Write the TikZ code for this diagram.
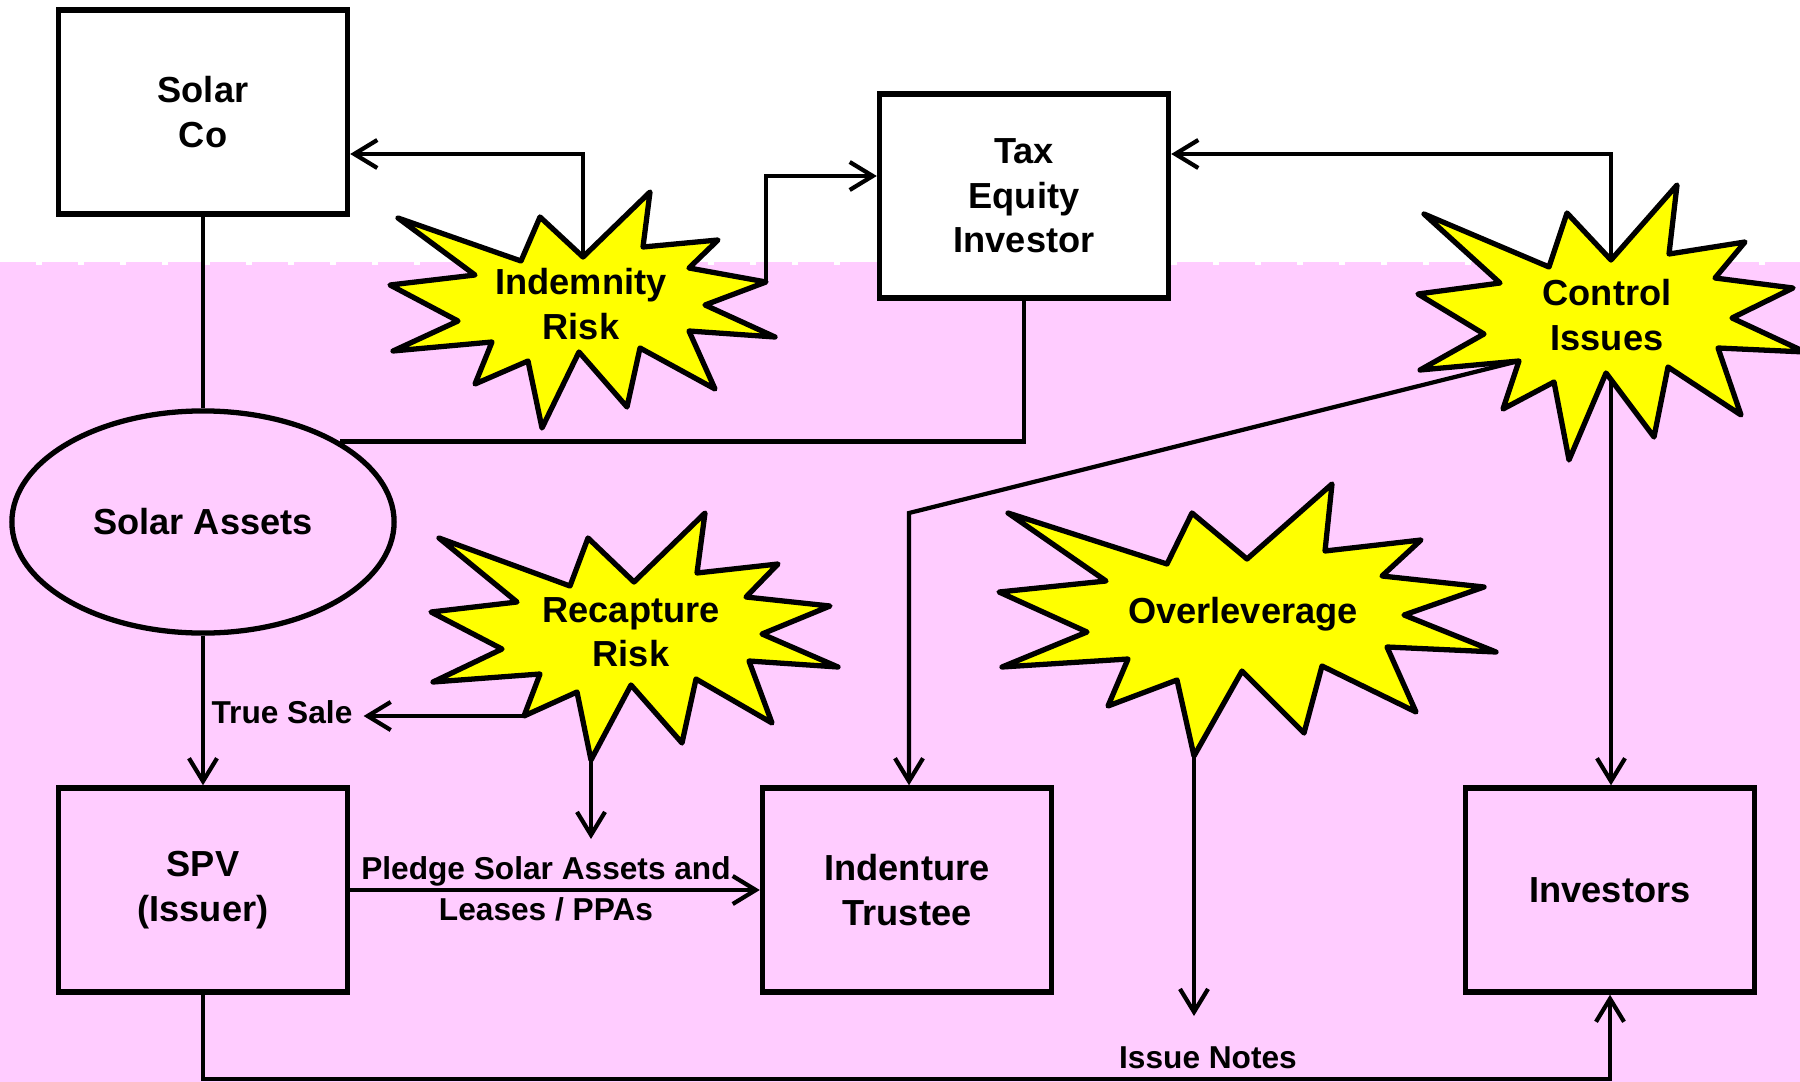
\documentclass[tikz,border=0pt]{standalone}
\usepackage{fontspec}
\setmainfont{Liberation Sans}
\usepackage{xcolor}
\usetikzlibrary{shapes.geometric, arrows.meta, positioning, calc}
\definecolor{bgpink}{RGB}{255,204,255}
\definecolor{burstyellow}{RGB}{255,255,0}

\begin{document}
\begin{tikzpicture}[x=0.01cm,y=-0.01cm]
\tikzset{
  bx/.style={rectangle,draw=black,line width=1.5pt,minimum width=2.89cm,minimum height=2.04cm,align=center,font=\bfseries\fontsize{10.3}{12.6}\selectfont},
  el/.style={ellipse,draw=black,line width=1.5pt,minimum width=3.82cm,minimum height=2.22cm,inner sep=0pt,font=\bfseries\fontsize{10.3}{12.6}\selectfont},
  burst/.style={draw=black,fill=burstyellow,line width=1.5pt,line join=round},
  bt/.style={align=center,font=\bfseries\fontsize{10.3}{12.6}\selectfont,inner sep=0pt},
  ar/.style={-{Straight Barb[length=2.3mm,width=2.8mm]},line width=1.2pt},
  ln/.style={line width=1.2pt},
  lb/.style={font=\bfseries\fontsize{9}{10.8}\selectfont,inner sep=3pt}
}
\useasboundingbox (0,0) rectangle (1800,1082);
\fill[bgpink] (0,265) rectangle (1800,1082);
\draw[bgpink,line width=0.9pt,dash pattern=on 0.36cm off 0.06cm] (0,263.5) -- (1800,263.5);

\node[bx,fill=white] (solarco) at (203,112) {Solar\\Co};
\node[bx,fill=white] (taxeq) at (1024,196) {Tax\\Equity\\Investor};
\node[el] (assets) at (203,522) {Solar Assets};
\node[bx] (spv) at (203,890) {SPV\\(Issuer)};
\node[bx] (trustee) at (907,890) {Indenture\\Trustee};
\node[bx] (investors) at (1610,890) {Investors};

\coordinate (indA) at (583,257);
\coordinate (indK) at (583,154);
\coordinate (indR) at (766,282);
\coordinate (indK2) at (766,176);
\coordinate (ctlT) at (1611,260);
\coordinate (ctlK) at (1611,154);
\coordinate (ctlB) at (1611,373);
\coordinate (ctlL) at (1519,361);
\coordinate (trK) at (909,513);
\coordinate (recL) at (524,716);
\coordinate (recB) at (591,760);
\coordinate (recE) at (591,839);
\coordinate (ovB) at (1194,756);
\coordinate (ovE) at (1194,1016);
\coordinate (bot) at (0,1079);

\node[lb] (truesale) at (282,712) {True Sale};
\node[lb] (pledge) at (546,871) {Pledge Solar Assets and};
\node[lb] (leases) at (546,909) {Leases / PPAs};
\node[lb] (issue) at (1208,1058) {Issue Notes};

\draw[ln] (solarco) -- (assets);
\draw[ar] (assets) -- (spv);
\draw[ln] (taxeq.south) |- (assets.north east);
\draw[ar] (indA) -- (indK) -- (indK -| solarco.east);
\draw[ar] (indR) -- (indK2) -- (indK2 -| taxeq.west);
\draw[ar] (ctlT) -- (ctlK) -- (ctlK -| taxeq.east);
\draw[ar] (ctlB) -- (ctlB |- investors.north);
\draw[ar] (ctlL) -- (trK) -- (trK |- trustee.north);
\draw[ar] (recL) -- (recL -| truesale.east);
\draw[ar] (recB) -- (recE);
\draw[ar] (spv) -- (trustee);
\draw[ar] (ovB) -- (ovE);
\draw[ar] (spv.south) -- (spv.south |- bot) -| (investors.south);

\draw[burst] (398,218) -- (521,261) -- (540,217) -- (583,257) -- (650,192) -- (643,247) -- (718,240) -- (689,268) -- (766,282) -- (705,305) -- (775,337) -- (689,331) -- (715,389) -- (640,348) -- (627,407) -- (579,352) -- (542,428) -- (528,361) -- (475,384) -- (492,342) -- (393,351) -- (458,321) -- (390,285) -- (475,275) -- cycle;
\draw[burst] (1424,214) -- (1549,267) -- (1567,213) -- (1611,260) -- (1677,185) -- (1669,254) -- (1745,242) -- (1715,278) -- (1793,288) -- (1732,318) -- (1805,352) -- (1718,348) -- (1741,415) -- (1668,367) -- (1654,437) -- (1606,373) -- (1569,460) -- (1554,382) -- (1503,409) -- (1519,361) -- (1420,370) -- (1484,334) -- (1418,294) -- (1500,283) -- cycle;
\draw[burst] (439,538) -- (570,586) -- (588,538) -- (634,582) -- (705,513) -- (697,573) -- (778,564) -- (746,597) -- (830,606) -- (762,634) -- (838,667) -- (749,661) -- (772,723) -- (696,679) -- (682,743) -- (631,685) -- (591,760) -- (577,692) -- (524,716) -- (540,674) -- (433,682) -- (502,649) -- (431,612) -- (517,602) -- cycle;
\draw[burst] (1008,513) -- (1167,564) -- (1192,513) -- (1247,559) -- (1332,484) -- (1325,551) -- (1421,540) -- (1382,576) -- (1484,587) -- (1404,615) -- (1496,652) -- (1387,647) -- (1416,712) -- (1322,666) -- (1304,733) -- (1242,671) -- (1194,756) -- (1177,680) -- (1108,706) -- (1128,659) -- (1002,667) -- (1087,632) -- (999,592) -- (1106,581) -- cycle;

\node[bt] (indemnity) at (581,304) {Indemnity\\Risk};
\node[bt] (control) at (1607,315) {Control\\Issues};
\node[bt] (recapture) at (631,632) {Recapture\\Risk};
\node[bt] (overlev) at (1243,614) {Overleverage};
\end{tikzpicture}
\end{document}
